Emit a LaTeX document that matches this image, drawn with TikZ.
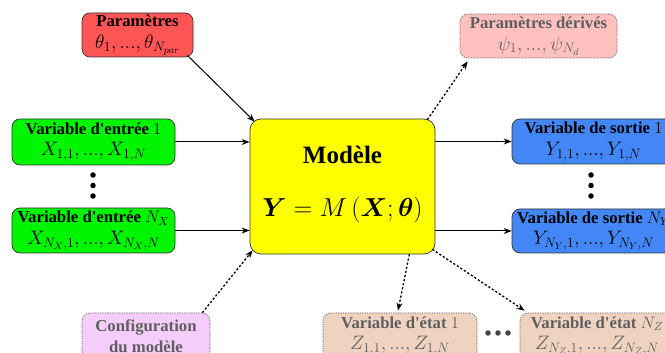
\RequirePackage{fix-cm}
\documentclass[tikz,border=0pt]{standalone}
\usepackage{amsmath}
\usepackage{bm}
\usepackage{fontspec}
\setmainfont{Liberation Serif}
\usetikzlibrary{arrows.meta,calc}
\definecolor{cpar}{RGB}{255,85,85}
\definecolor{cin}{RGB}{0,245,0}
\definecolor{cout}{RGB}{66,135,245}
\definecolor{cmod}{RGB}{255,255,0}
\definecolor{cder}{RGB}{255,192,192}
\definecolor{ccfg}{RGB}{245,205,250}
\definecolor{cstate}{RGB}{240,210,192}
\definecolor{cfade}{RGB}{95,95,95}
\newcommand\mathfs{\fontsize{19.5}{21.5}\selectfont}
\newcommand\apos{\textquotesingle}
\tikzset{
  box/.style={draw=black!80, line width=0.7pt, rounded corners=8pt, inner sep=0pt, align=center,
    font=\fontsize{16.7}{21.5}\selectfont},
  fadebox/.style={box, draw=cfade, dash pattern=on 1.2pt off 1.2pt, text=cfade},
  solidarrow/.style={line width=1pt, -{Stealth[length=8pt,width=6pt]}},
  dotarrow/.style={line width=1.3pt, dash pattern=on 2.2pt off 2pt, -{Stealth[length=8pt,width=6pt]}},
  vdot/.style={circle, fill=black, inner sep=0pt, minimum size=5.5pt},
}
\begin{document}
\begin{tikzpicture}[x=1pt,y=1pt]
\useasboundingbox (0,0) rectangle (665,353);
\clip (0,0) rectangle (665,353);
% model
\node[box, fill=cmod, draw=black!80, rounded corners=11pt, minimum width=185pt, minimum height=135pt] (model) at (342.5,166.5) {};
\node[font=\fontsize{25}{30}\selectfont\bfseries] (modtitle) at (342.5,198) {Modèle};
\node[font=\fontsize{26}{30}\selectfont] (modeq) at (342.5,143) {$\bm{Y} = M\left(\bm{X};\bm{\theta}\right)$};
% parameters
\node[box, fill=cpar, minimum width=111pt, minimum height=44pt] (par) at (137.5,318)
  {\textbf{Paramètres}\\{\mathfs$\theta_1, ..., \theta_{N_{par}}$}};
% inputs
\node[box, fill=cin, minimum width=163pt, minimum height=46pt] (in1) at (93.5,211)
  {\textbf{Variable d\apos entrée} $1$\\{\mathfs$X_{1,1}, ..., X_{1,N}$}};
\node[box, fill=cin, minimum width=163pt, minimum height=45pt] (inN) at (93.5,122.5)
  {\textbf{Variable d\apos entrée} $N_X$\\{\mathfs$X_{N_X,1}, ..., X_{N_X,N}$}};
\node[vdot] (ld1) at (93,178) {};
\node[vdot] (ld2) at (93,167.5) {};
\node[vdot] (ld3) at (93,157) {};
% outputs
\node[box, fill=cout, minimum width=163pt, minimum height=45pt] (out1) at (593.5,211.5)
  {\textbf{Variable de sortie} $1$\\{\mathfs$Y_{1,1}, ..., Y_{1,N}$}};
\node[box, fill=cout, minimum width=163pt, minimum height=44pt] (outN) at (593.5,122)
  {\textbf{Variable de sortie} $N_Y$\\{\mathfs$Y_{N_Y,1}, ..., Y_{N_Y,N}$}};
\node[vdot] (rd1) at (591,178) {};
\node[vdot] (rd2) at (591,167.5) {};
\node[vdot] (rd3) at (591,157) {};
% derived
\node[fadebox, fill=cder, minimum width=157pt, minimum height=44pt] (der) at (538.5,317)
  {\textbf{Paramètres dérivés}\\{\mathfs$\psi_1, ..., \psi_{N_d}$}};
% configuration
\node[fadebox, fill=ccfg, minimum width=128pt, minimum height=46pt] (cfg) at (146,17)
  {\textbf{Configuration}\\\textbf{du modèle}};
% states
\node[fadebox, fill=cstate, minimum width=154pt, minimum height=46pt] (st1) at (400,17)
  {\textbf{Variable d\apos état} $1$\\{\mathfs$Z_{1,1}, ..., Z_{1,N}$}};
\node[fadebox, fill=cstate, minimum width=154pt, minimum height=46pt] (stN) at (597,17)
  {\textbf{Variable d\apos état} $N_Z$\\{\mathfs$Z_{N_Z,1}, ..., Z_{N_Z,N}$}};
\node[vdot, fill=cfade!70!black] (hd1) at (488,20) {};
\node[vdot, fill=cfade!70!black] (hd2) at (498,20) {};
\node[vdot, fill=cfade!70!black] (hd3) at (508,20) {};
% connectors
\draw[solidarrow] ($(par.south east)+(-6,2)$) -- ($(model.north west)+(5,-3)$);
\draw[solidarrow] (in1.east) -- (in1.east -| model.west);
\draw[solidarrow] (inN.east) -- (inN.east -| model.west);
\draw[solidarrow] (out1.west -| model.east) -- (out1.west);
\draw[solidarrow] (outN.west -| model.east) -- (outN.west);
\draw[dotarrow] ($(model.north east)+(-8,-1)$) -- ($(der.south west)+(8,-3)$);
\draw[dotarrow] ($(cfg.north east)+(-8,0)$) -- ($(model.south west)+(3,4)$);
\draw[dotarrow] ($(model.south east)+(-26,0)$) -- ($(st1.north)+(-2,2)$);
\draw[dotarrow] ($(model.south east)+(-3,5)$) -- ($(stN.north west)+(5,2)$);
\end{tikzpicture}
\end{document}
